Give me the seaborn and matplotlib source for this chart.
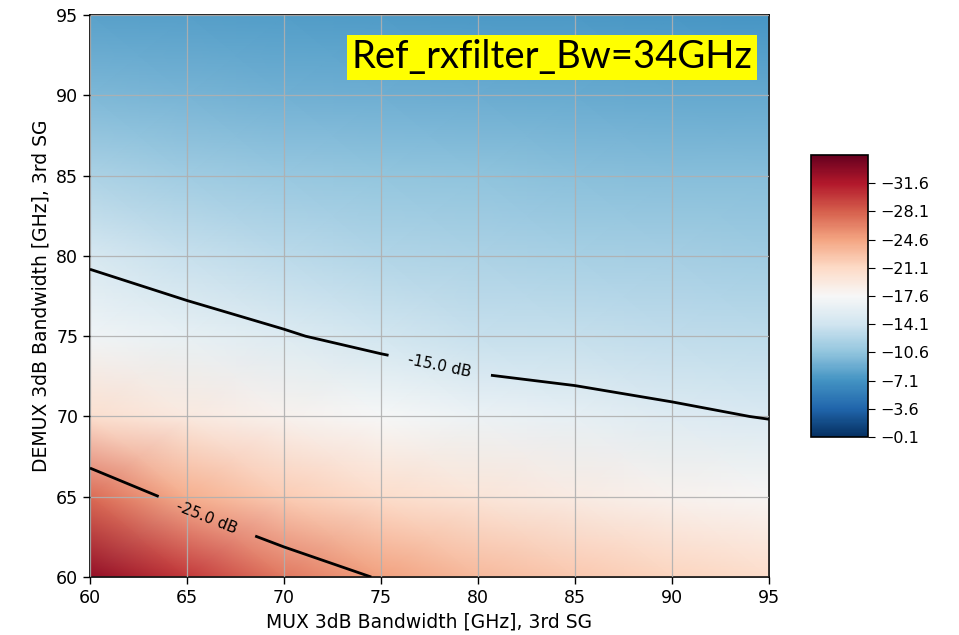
import numpy as np
import matplotlib
matplotlib.use("Agg")
import matplotlib.pyplot as plt
import seaborn as sns

# MUX / DEMUX 3dB bandwidth grid (GHz)
mux_bw = [60, 65, 70, 75, 80, 85, 90, 95]
demux_bw = [60, 65, 70, 75, 80, 85, 90, 95]

# penalty [dB], one list per MUX bandwidth (rows = DEMUX 60..95)
pen_mux60 = [-33.0, -27.5, -20.5, -17.0, -14.6, -12.0, -9.7, -8.1]
pen_mux65 = [-30.0, -24.0, -19.3, -16.2, -13.5, -11.4, -9.4, -7.9]
pen_mux70 = [-26.8, -22.0, -18.3, -15.2, -12.9, -11.0, -9.2, -7.8]
pen_mux75 = [-24.8, -20.8, -17.5, -14.3, -12.4, -10.7, -9.0, -7.7]
pen_mux80 = [-23.3, -19.8, -16.6, -13.6, -12.0, -10.5, -8.9, -7.6]
pen_mux85 = [-22.3, -19.0, -16.0, -13.4, -11.8, -10.3, -8.8, -7.5]
pen_mux90 = [-21.5, -18.4, -15.4, -13.2, -11.6, -10.2, -8.7, -7.4]
pen_mux95 = [-20.8, -17.8, -14.9, -13.0, -11.4, -10.1, -8.6, -7.3]

contour_levels = [-25.0, -15.0]
cbar_ticks = [-31.6, -28.1, -24.6, -21.1, -17.6, -14.1, -10.6, -7.1, -3.6, -0.1]
vmin, vmax = -35.1, -0.1
title_text = "Ref_rxfilter_Bw=34GHz"

sns.set_style("ticks", {"axes.grid": True, "grid.color": "#b0b0b0",
                        "axes.edgecolor": "black", "xtick.color": "black",
                        "ytick.color": "black", "axes.labelcolor": "black"})
plt.rcParams["font.family"] = ["DejaVu Sans"]

Z = np.array([pen_mux60, pen_mux65, pen_mux70, pen_mux75,
              pen_mux80, pen_mux85, pen_mux90, pen_mux95]).T
X, Y = np.meshgrid(mux_bw, demux_bw)

cmap = sns.color_palette("RdBu", as_cmap=True)

fig = plt.figure(figsize=(9.59, 6.35), dpi=100)
ax = fig.add_axes([0.0938, 0.0913, 0.708, 0.885])
cax = fig.add_axes([0.8457, 0.3118, 0.0594, 0.444])

mesh = ax.pcolormesh(X, Y, Z, cmap=cmap, vmin=vmin, vmax=vmax, shading="gouraud")
cs = ax.contour(X, Y, Z, levels=contour_levels, colors="black",
                linewidths=2.0, linestyles="solid", zorder=3)
ax.clabel(cs, fmt="%.1f dB", fontsize=11, inline=True, inline_spacing=20,
          manual=[(66.0, 63.7), (78.0, 73.0)])

ax.set_xlim(60, 95)
ax.set_ylim(60, 95)
ax.set_axisbelow(False)
ax.grid(True, color="#b0b0b0", linewidth=0.9, alpha=0.9)
ax.tick_params(labelsize=12.5, length=5, width=1)
ax.set_xlabel("MUX 3dB Bandwidth [GHz], 3rd SG", fontsize=13.5)
ax.set_ylabel("DEMUX 3dB Bandwidth [GHz], 3rd SG", fontsize=13.5)
for s in ax.spines.values():
    s.set_visible(True)
    s.set_linewidth(1.2)

cbar = fig.colorbar(mesh, cax=cax, ticks=cbar_ticks)
cbar.ax.invert_yaxis()
cbar.ax.tick_params(labelsize=11.5, length=5)
cbar.outline.set_linewidth(1.2)

fig.text(0.5756, 0.910, title_text, fontsize=27.5, family=["Lato", "DejaVu Sans"],
         color="black", ha="center", va="center",
         bbox=dict(boxstyle="square,pad=0.12", facecolor="yellow", edgecolor="none"))

fig.savefig("out.png", dpi=100)
